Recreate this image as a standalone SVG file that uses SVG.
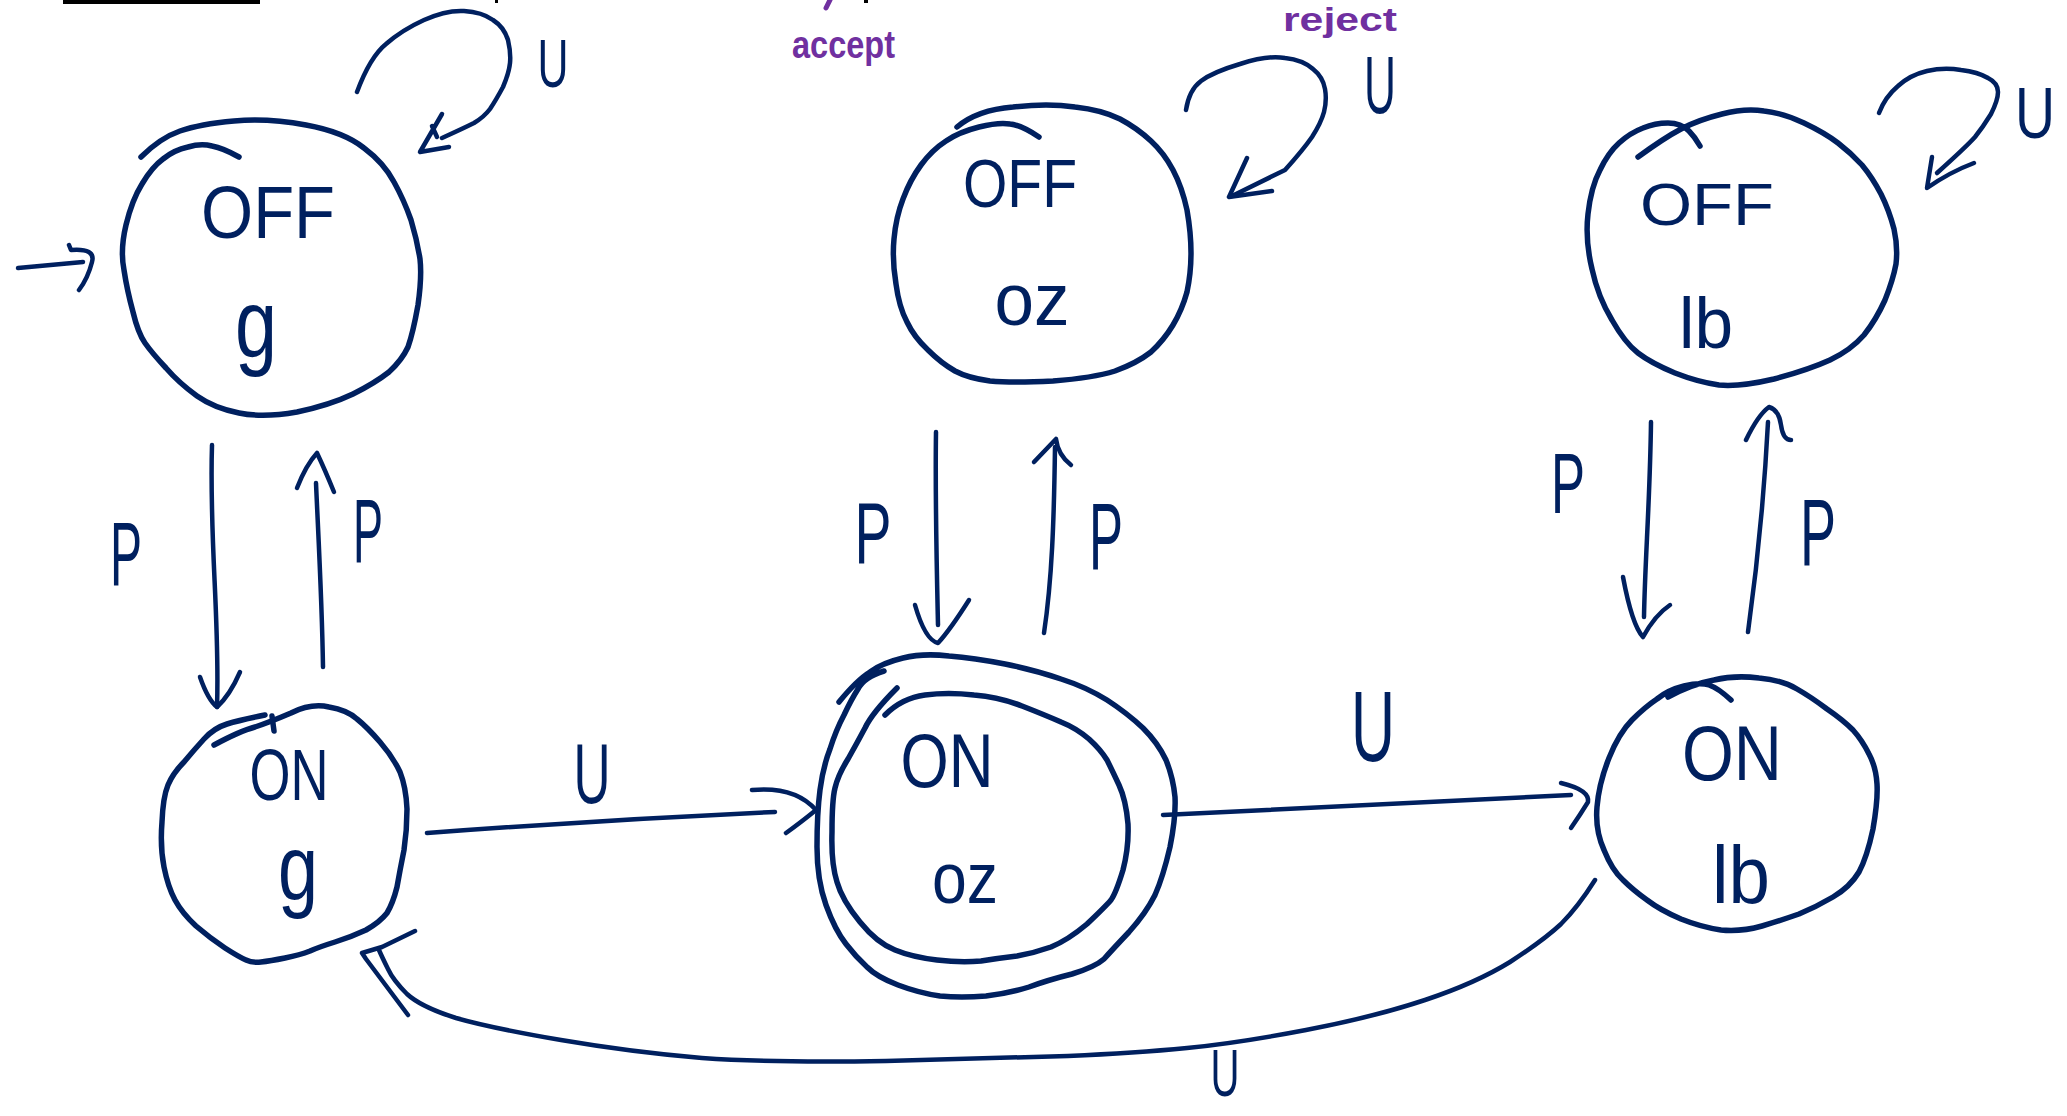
<svg xmlns="http://www.w3.org/2000/svg" width="2067" height="1116" viewBox="0 0 2067 1116">
<style>
.ink{fill:none;stroke:#00205f;stroke-width:5.5;stroke-linecap:round;stroke-linejoin:round}
.edge{fill:none;stroke:#00205f;stroke-width:4.5;stroke-linecap:round;stroke-linejoin:round}
.t{font-family:"Liberation Sans",Arial,sans-serif;fill:#00205f;text-anchor:middle}
.note{font-family:"Liberation Sans",Arial,sans-serif;fill:#7030a0;font-weight:bold}
</style>
<rect width="2067" height="1116" fill="#ffffff"/>
<g id="fragments">
<rect x="63" y="0" width="197" height="4" fill="#000000"/>
<rect x="495" y="0" width="3" height="3" fill="#000000"/>
<rect x="864" y="0" width="4" height="3" fill="#000000"/>
<path d="M830,0 L826,8" fill="none" stroke="#7030a0" stroke-width="5" stroke-linecap="round"/>
</g>
<g id="annotations">
<text class="note" x="792" y="58" font-size="38" textLength="103" lengthAdjust="spacingAndGlyphs">accept</text>
<text class="note" x="1283" y="31" font-size="34" textLength="114" lengthAdjust="spacingAndGlyphs">reject</text>
</g>
<g id="node-off-g">
<path class="ink" d="M141,157 Q160,138 180,131 Q200,124 234,121 Q268,118 306,125 Q344,132 364,148 Q384,163 394,182 Q404,200 411,220 Q417,240 420,259 Q422,277 418,305 Q413,333 408,347 Q402,360 389,372 Q375,383 353,394 Q330,405 297,412 Q263,418 239,413 Q214,408 197,396 Q179,383 166,368 Q152,353 145,343 Q138,333 133,312 Q127,290 124,270 Q120,250 126,225 Q132,200 142,184 Q152,167 163,159 Q174,150 188,147 Q201,143 212,146 Q223,148 239,157"/>
<text class="t" x="268" y="238" font-size="74" textLength="134" lengthAdjust="spacingAndGlyphs">OFF</text>
<text class="t" transform="translate(256,357) scale(1,1.45)" x="0" y="0" font-size="66" textLength="42" lengthAdjust="spacingAndGlyphs">g</text>
</g>
<g id="node-off-oz">
<path class="ink" d="M957,127 Q977,110 1013,107 Q1048,103 1075,107 Q1102,110 1120,119 Q1137,128 1151,141 Q1164,153 1173,170 Q1182,187 1187,210 Q1191,233 1191,253 Q1191,273 1187,292 Q1182,310 1173,325 Q1164,340 1151,352 Q1137,363 1115,371 Q1093,378 1053,381 Q1012,383 990,381 Q968,378 955,371 Q941,363 928,350 Q914,337 907,322 Q899,307 896,284 Q892,260 894,239 Q896,217 903,199 Q910,180 921,165 Q932,150 946,141 Q959,132 979,127 Q999,122 1010,124 Q1021,125 1039,137"/>
<text class="t" x="1020" y="207" font-size="68" textLength="114" lengthAdjust="spacingAndGlyphs">OFF</text>
<text class="t" x="1032" y="325" font-size="74" textLength="75" lengthAdjust="spacingAndGlyphs">oz</text>
</g>
<g id="node-off-lb">
<path class="ink" d="M1638,157 Q1664,138 1681,129 Q1698,120 1722,114 Q1745,108 1764,111 Q1783,113 1804,123 Q1825,133 1838,143 Q1851,153 1862,165 Q1872,177 1881,194 Q1889,210 1894,229 Q1898,247 1896,264 Q1893,280 1885,300 Q1876,320 1864,335 Q1851,350 1830,360 Q1808,370 1774,379 Q1740,387 1719,385 Q1698,382 1675,373 Q1651,363 1638,353 Q1625,343 1612,320 Q1598,297 1592,269 Q1585,240 1588,214 Q1591,187 1600,170 Q1608,153 1619,143 Q1630,133 1643,128 Q1655,123 1668,123 Q1681,123 1689,131 Q1695,137 1700,146"/>
<text class="t" x="1707" y="225" font-size="59" textLength="134" lengthAdjust="spacingAndGlyphs">OFF</text>
<text class="t" transform="translate(1706,348) scale(1,1.26)" x="0" y="0" font-size="58" textLength="54" lengthAdjust="spacingAndGlyphs">lb</text>
</g>
<g id="node-on-g">
<path class="ink" d="M214,745 Q240,731 255,727 Q270,722 291,713 Q311,703 329,707 Q347,710 357,719 Q367,727 380,742 Q393,757 400,772 Q406,787 407,809 Q407,830 404,850 Q400,870 397,887 Q393,903 387,913 Q380,922 366,930 Q351,937 335,942 Q319,947 310,951 Q300,955 285,958 Q270,961 261,962 Q252,963 246,960 Q239,957 225,948 Q210,938 196,926 Q182,913 175,900 Q168,887 164,867 Q160,847 162,822 Q163,797 168,785 Q173,773 184,762 Q194,750 204,739 Q214,728 227,724 Q240,720 265,715"/>
<path class="ink" d="M272,716 L274,731" stroke-width="4"/>
<text class="t" x="289" y="800" font-size="73" textLength="79" lengthAdjust="spacingAndGlyphs">ON</text>
<text class="t" transform="translate(298,900) scale(1,1.45)" x="0" y="0" font-size="64" textLength="40" lengthAdjust="spacingAndGlyphs">g</text>
</g>
<g id="node-on-oz">
<path class="ink" stroke-width="6" d="M839,702 Q857,680 870,672 Q882,663 903,658 Q923,653 949,656 Q974,658 1005,664 Q1035,670 1061,679 Q1086,687 1107,700 Q1127,713 1143,728 Q1158,743 1166,760 Q1173,777 1175,797 Q1176,817 1170,847 Q1163,877 1155,895 Q1146,913 1129,932 Q1112,950 1104,959 Q1095,967 1072,974 Q1048,980 1029,987 Q1010,993 986,996 Q961,998 940,996 Q919,993 898,985 Q877,977 867,967 Q856,957 846,944 Q835,930 826,905 Q817,880 817,847 Q817,813 820,790 Q823,767 830,749 Q836,730 844,715 Q851,700 858,689 Q864,677 884,671"/>
<path class="ink" stroke-width="4.5" d="M885,715 Q902,698 925,695 Q948,692 974,695 Q999,697 1022,706 Q1045,715 1061,722 Q1076,728 1089,739 Q1101,750 1107,760 Q1112,770 1119,785 Q1126,800 1128,824 Q1129,847 1123,870 Q1116,893 1111,900 Q1105,907 1087,924 Q1068,940 1051,947 Q1034,953 1017,956 Q1000,958 981,961 Q961,963 937,960 Q912,957 895,950 Q877,943 860,922 Q842,900 837,882 Q831,863 832,832 Q832,800 835,788 Q838,775 848,759 Q857,743 865,728 Q872,713 897,688"/>
<text class="t" x="947" y="787" font-size="76" textLength="93" lengthAdjust="spacingAndGlyphs">ON</text>
<text class="t" x="965" y="903" font-size="72" textLength="66" lengthAdjust="spacingAndGlyphs">oz</text>
</g>
<g id="node-on-lb">
<path class="ink" d="M1668,697 Q1692,684 1714,680 Q1735,675 1759,678 Q1782,680 1797,689 Q1811,697 1827,709 Q1843,720 1853,730 Q1862,740 1869,754 Q1876,767 1877,784 Q1878,800 1873,829 Q1867,857 1859,872 Q1850,887 1833,897 Q1816,907 1799,914 Q1782,920 1762,926 Q1741,932 1721,930 Q1701,927 1681,919 Q1660,910 1647,900 Q1633,890 1623,880 Q1612,870 1604,850 Q1595,830 1597,807 Q1599,783 1609,758 Q1619,733 1632,720 Q1645,707 1657,699 Q1668,690 1684,686 Q1700,682 1709,685 Q1718,688 1731,700"/>
<text class="t" x="1732" y="780" font-size="78" textLength="100" lengthAdjust="spacingAndGlyphs">ON</text>
<text class="t" transform="translate(1741,903) scale(1,1.28)" x="0" y="0" font-size="64" textLength="58" lengthAdjust="spacingAndGlyphs">lb</text>
</g>
<g id="connectors">
<path class="edge" d="M18,268 Q50,265 83,262"/>
<path class="edge" d="M69,245 L71,250 Q96,248 92,262 Q88,278 79,290"/>
<path class="edge" d="M357,92 Q370,57 386,44 Q402,30 424,20 Q446,10 464,11 Q482,12 493,20 Q504,27 508,40 Q511,53 510,63 Q509,73 503,87 Q496,100 490,109 Q484,117 474,123 Q464,128 442,138"/>
<path class="edge" d="M442,114 L420,152 L449,147 M432,126 L437,137"/>
<path class="edge" d="M1186,110 Q1189,90 1201,81 Q1213,72 1240,64 Q1267,55 1285,58 Q1303,60 1313,69 Q1323,77 1325,89 Q1327,100 1324,112 Q1321,123 1312,137 Q1303,150 1285,170 L1232,196"/>
<path class="edge" d="M1247,158 L1229,197 L1272,191"/>
<path class="edge" d="M1879,113 Q1885,97 1898,86 Q1910,75 1927,71 Q1944,67 1961,70 Q1978,72 1988,78 Q1998,83 1998,92 Q1998,100 1991,114 Q1983,127 1975,137 Q1966,147 1937,173"/>
<path class="edge" d="M1932,157 L1927,188 Q1950,172 1974,163"/>
<path class="edge" d="M212,445 C209,540 220,620 217,707"/>
<path class="edge" d="M200,677 Q208,700 217,707 Q230,695 240,672"/>
<path class="edge" d="M323,667 C322,600 318,530 316,483"/>
<path class="edge" d="M297,488 Q306,465 317,453 Q325,470 334,492"/>
<path class="edge" d="M936,432 C935,500 937,580 938,625"/>
<path class="edge" d="M915,605 Q925,640 938,643 Q950,630 969,600"/>
<path class="edge" d="M1044,633 C1052,580 1054,520 1055,447"/>
<path class="edge" d="M1034,462 L1056,439 Q1058,455 1071,465"/>
<path class="edge" d="M1651,422 C1650,500 1645,560 1644,617"/>
<path class="edge" d="M1623,577 Q1632,625 1643,637 Q1655,615 1670,605"/>
<path class="edge" d="M1748,632 C1758,560 1765,480 1768,422"/>
<path class="edge" d="M1746,440 Q1758,415 1769,407 Q1779,410 1781,425 Q1783,440 1791,440"/>
<path class="edge" d="M427,833 Q600,820 775,812"/>
<path class="edge" d="M752,790 Q795,786 816,810 Q800,823 786,833"/>
<path class="edge" d="M1163,815 Q1400,803 1571,795"/>
<path class="edge" d="M1561,783 Q1590,790 1588,802 Q1580,815 1571,828"/>
<path class="edge" stroke-width="5.5" d="M1595,880 Q1578,907 1561,924 Q1544,940 1510,962 Q1476,983 1425,1000 Q1374,1017 1306,1030 Q1238,1043 1187,1048 Q1136,1053 1068,1056 Q1000,1058 886,1061 Q772,1063 702,1058 Q631,1052 561,1040 Q491,1028 456,1018 Q421,1007 407,994 Q393,980 388,969 Q382,957 379,950"/>
<path class="edge" d="M415,931 L382,947 L362,953 L366,959 L408,1015"/>
</g>
<g id="edge-labels">
<text class="t" x="553" y="87" font-size="68" textLength="31" lengthAdjust="spacingAndGlyphs">U</text>
<text class="t" transform="translate(1380,113) scale(1,1.23)" x="0" y="0" font-size="66" textLength="32" lengthAdjust="spacingAndGlyphs">U</text>
<text class="t" x="2035" y="138" font-size="72" textLength="40" lengthAdjust="spacingAndGlyphs">U</text>
<text class="t" transform="translate(592,803) scale(1,1.25)" x="0" y="0" font-size="68" textLength="37" lengthAdjust="spacingAndGlyphs">U</text>
<text class="t" transform="translate(1373,761) scale(1,1.78)" x="0" y="0" font-size="56" textLength="44" lengthAdjust="spacingAndGlyphs">U</text>
<text class="t" transform="translate(1225,1096) scale(1,1.2)" x="0" y="0" font-size="56" textLength="29" lengthAdjust="spacingAndGlyphs">U</text>
<text class="t" x="126" y="585" font-size="91" textLength="32" lengthAdjust="spacingAndGlyphs">P</text>
<text class="t" x="368" y="562" font-size="91" textLength="30" lengthAdjust="spacingAndGlyphs">P</text>
<text class="t" x="873" y="563" font-size="88" textLength="37" lengthAdjust="spacingAndGlyphs">P</text>
<text class="t" x="1106" y="569" font-size="94" textLength="34" lengthAdjust="spacingAndGlyphs">P</text>
<text class="t" x="1568" y="513" font-size="85" textLength="34" lengthAdjust="spacingAndGlyphs">P</text>
<text class="t" x="1818" y="565" font-size="95" textLength="36" lengthAdjust="spacingAndGlyphs">P</text>
</g>
</svg>
